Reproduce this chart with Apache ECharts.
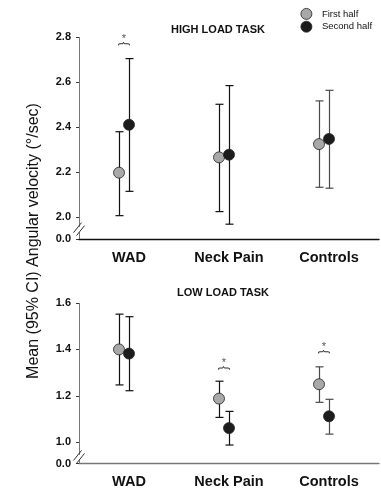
<!DOCTYPE html>
<html><head><meta charset="utf-8">
<script src="https://cdn.jsdelivr.net/npm/echarts@6/dist/echarts.min.js"></script>
<style>html,body{margin:0;padding:0;background:#fff}#c{width:381px;height:501px}</style>
</head><body><div id="c"></div>
<script>
const categories = ['WAD', 'Neck Pain', 'Controls'];
const seriesNames = ['First half', 'Second half'];
const highFirstMean = [2.197, 2.265, 2.324];
const highFirstLow = [2.006, 2.024, 2.132];
const highFirstHigh = [2.379, 2.501, 2.516];
const highSecondMean = [2.410, 2.277, 2.347];
const highSecondLow = [2.114, 1.968, 2.128];
const highSecondHigh = [2.704, 2.584, 2.563];
const lowFirstMean = [1.400, 1.188, 1.250];
const lowFirstLow = [1.247, 1.107, 1.172];
const lowFirstHigh = [1.552, 1.263, 1.325];
const lowSecondMean = [1.382, 1.061, 1.112];
const lowSecondLow = [1.222, 0.988, 1.035];
const lowSecondHigh = [1.541, 1.133, 1.185];
const highTickLabels = ['0.0', '2.0', '2.2', '2.4', '2.6', '2.8'];
const lowTickLabels = ['0.0', '1.0', '1.2', '1.4', '1.6'];
const highSigCats = ['WAD'];
const highSigVals = [2.77];
const lowSigCats = ['Neck Pain', 'Controls'];
const lowSigVals = [1.32, 1.39];
const panelTitles = ['HIGH LOAD TASK', 'LOW LOAD TASK'];
const yTitle = 'Mean (95% CI) Angular velocity (°/sec)';

const FONT = 'Liberation Sans, Arial, sans-serif';
const fillColors = ['#a8a8a8', '#1c1c1c'];
const offsets = [-10, 0];
const breakDefs = [
  { start: 0.03, end: 1.96, gap: 0.0278 },
  { start: 0.015, end: 0.95, gap: 0.0266 }
];

const chart = echarts.init(document.getElementById('c'), null, { renderer: 'canvas' });

function errSeries(g, low, high, k) {
  return {
    type: 'custom', xAxisIndex: g, yAxisIndex: g, silent: true, z: 2,
    encode: { x: 0, y: [1, 2] },
    data: categories.map((c, i) => [i, low[i], high[i]]),
    renderItem(params, api) {
      const i = api.value(0);
      const lo = api.coord([i, api.value(1)]);
      const hi = api.coord([i, api.value(2)]);
      const x = Math.round(lo[0] + offsets[k]) + 0.5;
      const s = { stroke: i === 2 ? '#4a4a4a' : '#111', lineWidth: 1.2 };
      return { type: 'group', children: [
        { type: 'line', shape: { x1: x, y1: hi[1], x2: x, y2: lo[1] }, style: s },
        { type: 'line', shape: { x1: x - 4, y1: hi[1], x2: x + 4, y2: hi[1] }, style: s },
        { type: 'line', shape: { x1: x - 4, y1: lo[1], x2: x + 4, y2: lo[1] }, style: s }
      ] };
    }
  };
}
function ptSeries(g, mean, k) {
  return {
    type: 'scatter', name: seriesNames[k], xAxisIndex: g, yAxisIndex: g, z: 5,
    symbol: 'circle', symbolSize: 11, symbolOffset: [offsets[k], 0],
    itemStyle: { color: fillColors[k], borderColor: '#222', borderWidth: 0.8, opacity: 1 },
    data: categories.map((c, i) => [c, mean[i]])
  };
}
function sigSeries(g, cats, vals) {
  return {
    type: 'custom', xAxisIndex: g, yAxisIndex: g, silent: true, z: 6,
    data: cats.map((c, i) => [categories.indexOf(c), vals[i]]),
    renderItem(params, api) {
      const p = api.coord([api.value(0), api.value(1)]);
      const x = p[0] - 5;
      return { type: 'group', children: [
        { type: 'text', x: x, y: p[1], rotation: Math.PI / 2,
          style: { text: '}', font: '12px ' + FONT, fill: '#333', align: 'center', verticalAlign: 'middle' } },
        { type: 'text', x: x, y: p[1] - 5,
          style: { text: '*', font: '11px ' + FONT, fill: '#555', align: 'center', verticalAlign: 'middle' } }
      ] };
    }
  };
}
function xAx(g, color) {
  return {
    type: 'category', gridIndex: g, data: categories, boundaryGap: true,
    axisLine: { lineStyle: { color: color, width: 1.3 } },
    axisTick: { alignWithLabel: true, length: 3, lineStyle: { color: '#222' } },
    axisLabel: { color: '#111', fontWeight: 'bold', fontSize: 14.5, fontFamily: FONT, margin: 11 },
    splitLine: { show: false }
  };
}
function yAx(g, min, max, labels) {
  const vals = labels.map(Number);
  return {
    type: 'value', gridIndex: g, min: min, max: max,
    breaks: [breakDefs[g]],
    breakArea: { show: false },
    axisLine: { show: true, lineStyle: { color: '#777', width: 1 } },
    axisTick: { show: true, length: 3, customValues: vals, lineStyle: { color: '#333' } },
    axisLabel: { customValues: vals, color: '#111', fontWeight: 'bold', fontSize: 11, fontFamily: FONT, margin: 8,
      formatter: v => v.toFixed(1) },
    splitLine: { show: false }
  };
}

const option = {
  animation: false,
  backgroundColor: '#fff',
  title: [
    { text: panelTitles[0], left: 213, top: 19, textAlign: 'center',
      textStyle: { fontSize: 11, fontWeight: 'bold', color: '#111', fontFamily: FONT } },
    { text: panelTitles[1], left: 218, top: 282, textAlign: 'center',
      textStyle: { fontSize: 11, fontWeight: 'bold', color: '#111', fontFamily: FONT } }
  ],
  legend: {
    data: seriesNames, orient: 'vertical', left: 295.5, top: 3, padding: 5,
    itemWidth: 21, itemHeight: 11, itemGap: 1, icon: 'circle',
    itemStyle: { borderWidth: 0.8, borderColor: '#222' },
    textStyle: { fontSize: 9.5, lineHeight: 11, color: '#111', fontFamily: FONT, padding: [0, 0, 0, 0] }
  },
  grid: [
    { left: 79, right: 2, top: 37, height: 202 },
    { left: 79, right: 2, top: 303, height: 160.5 }
  ],
  xAxis: [xAx(0, '#111'), xAx(1, '#777')],
  yAxis: [yAx(0, 0, 2.8, highTickLabels), yAx(1, 0, 1.6, lowTickLabels)],
  series: [
    errSeries(0, highFirstLow, highFirstHigh, 0),
    errSeries(0, highSecondLow, highSecondHigh, 1),
    ptSeries(0, highFirstMean, 0),
    ptSeries(0, highSecondMean, 1),
    sigSeries(0, highSigCats, highSigVals),
    errSeries(1, lowFirstLow, lowFirstHigh, 0),
    errSeries(1, lowSecondLow, lowSecondHigh, 1),
    ptSeries(1, lowFirstMean, 0),
    ptSeries(1, lowSecondMean, 1),
    sigSeries(1, lowSigCats, lowSigVals)
  ]
};
chart.setOption(option);

// axis-break marks and rotated y title
const gfx = [];
[0, 1].forEach(g => {
  const b = breakDefs[g];
  const y1 = chart.convertToPixel({ yAxisIndex: g }, b.start);
  const y2 = chart.convertToPixel({ yAxisIndex: g }, b.end);
  const ax = option.grid[g].left;
  const ym = (y1 + y2) / 2;
  [-1.5, 1.5].forEach(d => {
    gfx.push({ type: 'line', z: 10, shape: { x1: ax - 4 + d, y1: ym + 5 + d, x2: ax + 4 + d, y2: ym - 5 + d },
      style: { stroke: '#333', lineWidth: 1 } });
  });
});
gfx.push({ type: 'text', x: 34, y: 241, rotation: Math.PI / 2,
  style: { text: yTitle, font: '16px ' + FONT, fill: '#111', align: 'center', verticalAlign: 'middle' } });
chart.setOption({ graphic: gfx });
</script></body></html>
